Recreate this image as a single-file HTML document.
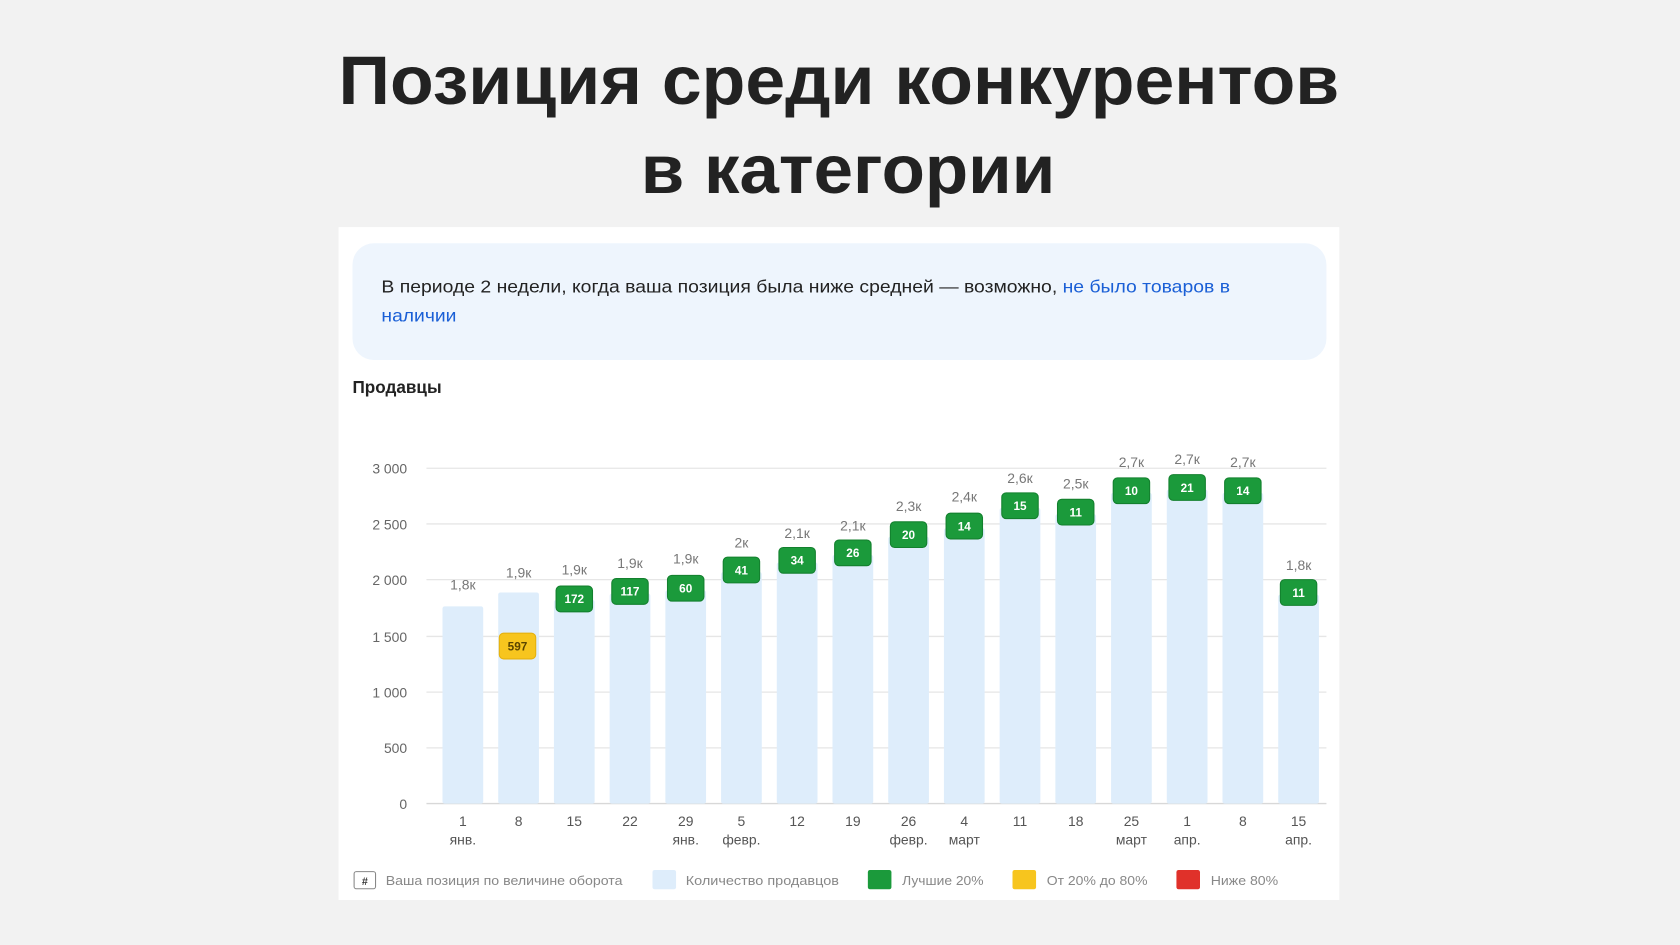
<!DOCTYPE html>
<html><head><meta charset="utf-8"><style>
html,body{margin:0;padding:0;background:#f2f2f2;width:1680px;height:945px;overflow:hidden}
svg{display:block}
text{font-family:"Liberation Sans","Noto Sans CJK SC",sans-serif}
</style></head><body>
<svg width="1680" height="945" viewBox="0 0 1568 882" xmlns="http://www.w3.org/2000/svg">
<rect width="1568" height="882" fill="#f2f2f2"/>
<text x="316" y="97" textLength="934" lengthAdjust="spacingAndGlyphs" font-size="64" font-weight="bold" fill="#222">Позиция среди конкурентов</text>
<text x="598" y="180" textLength="387" lengthAdjust="spacingAndGlyphs" font-size="64" font-weight="bold" fill="#222">в категории</text>
<rect x="316" y="212" width="934" height="628" fill="#fff"/>
<rect x="329" y="227" width="909" height="109" rx="20" fill="#eef5fd"/>
<text x="356" y="273" font-size="16" fill="#222" textLength="792" lengthAdjust="spacingAndGlyphs">В периоде 2 недели, когда ваша позиция была ниже средней — возможно, <tspan fill="#1a5fd6">не было товаров в</tspan></text>
<text x="356" y="300" font-size="16" fill="#1a5fd6" textLength="70" lengthAdjust="spacingAndGlyphs">наличии</text>
<text x="329" y="367" font-size="16" font-weight="bold" fill="#222">Продавцы</text>
<g stroke="#e6e6e6" stroke-width="1.2">
<line x1="398" x2="1238" y1="437" y2="437"/><line x1="398" x2="1238" y1="489" y2="489"/>
<line x1="398" x2="1238" y1="541" y2="541"/><line x1="398" x2="1238" y1="594" y2="594"/>
<line x1="398" x2="1238" y1="646" y2="646"/><line x1="398" x2="1238" y1="698" y2="698"/>
<line x1="398" x2="1238" y1="750" y2="750" stroke="#d8d8d8"/>
</g>
<g font-size="13" fill="#666" text-anchor="end">
<text x="380" y="442">3 000</text><text x="380" y="494">2 500</text><text x="380" y="546">2 000</text>
<text x="380" y="599">1 500</text><text x="380" y="651">1 000</text><text x="380" y="703">500</text><text x="380" y="755">0</text>
</g>
<g fill="#deedfb">
<rect x="413" y="566" width="38" height="184" rx="2"/>
<rect x="465" y="553" width="38" height="197" rx="2"/>
<rect x="517" y="560" width="38" height="190" rx="2"/>
<rect x="569" y="554" width="38" height="196" rx="2"/>
<rect x="621" y="551" width="38" height="199" rx="2"/>
<rect x="673" y="534" width="38" height="216" rx="2"/>
<rect x="725" y="525" width="38" height="225" rx="2"/>
<rect x="777" y="518" width="38" height="232" rx="2"/>
<rect x="829" y="501" width="38" height="249" rx="2"/>
<rect x="881" y="493" width="38" height="257" rx="2"/>
<rect x="933" y="474" width="38" height="276" rx="2"/>
<rect x="985" y="480" width="38" height="270" rx="2"/>
<rect x="1037" y="460" width="38" height="290" rx="2"/>
<rect x="1089" y="457" width="38" height="293" rx="2"/>
<rect x="1141" y="460" width="38" height="290" rx="2"/>
<rect x="1193" y="555" width="38" height="195" rx="2"/>
</g>
<g font-size="13" fill="#777" text-anchor="middle">
<text x="432" y="550">1,8к</text><text x="484" y="539">1,9к</text><text x="536" y="536">1,9к</text>
<text x="588" y="530">1,9к</text><text x="640" y="526">1,9к</text><text x="692" y="511">2к</text>
<text x="744" y="502">2,1к</text><text x="796" y="495">2,1к</text><text x="848" y="477">2,3к</text>
<text x="900" y="468">2,4к</text><text x="952" y="451">2,6к</text><text x="1004" y="456">2,5к</text>
<text x="1056" y="436">2,7к</text><text x="1108" y="433">2,7к</text><text x="1160" y="436">2,7к</text>
<text x="1212" y="532">1,8к</text>
</g>
<rect x="466" y="591" width="34" height="24" rx="4" fill="#f7c51e" stroke="#e5b10e"/>
<text x="483" y="607" font-size="11" font-weight="bold" fill="#5a4500" text-anchor="middle">597</text>
<g fill="#1b9a3b" stroke="#13802e">
<rect x="519" y="547" width="34" height="24" rx="4"/><rect x="571" y="540" width="34" height="24" rx="4"/>
<rect x="623" y="537" width="34" height="24" rx="4"/><rect x="675" y="520" width="34" height="24" rx="4"/>
<rect x="727" y="511" width="34" height="24" rx="4"/><rect x="779" y="504" width="34" height="24" rx="4"/>
<rect x="831" y="487" width="34" height="24" rx="4"/><rect x="883" y="479" width="34" height="24" rx="4"/>
<rect x="935" y="460" width="34" height="24" rx="4"/><rect x="987" y="466" width="34" height="24" rx="4"/>
<rect x="1039" y="446" width="34" height="24" rx="4"/><rect x="1091" y="443" width="34" height="24" rx="4"/>
<rect x="1143" y="446" width="34" height="24" rx="4"/><rect x="1195" y="541" width="34" height="24" rx="4"/>
</g>
<g font-size="11" font-weight="bold" fill="#fff" text-anchor="middle">
<text x="536" y="563">172</text><text x="588" y="556">117</text><text x="640" y="553">60</text>
<text x="692" y="536">41</text><text x="744" y="527">34</text><text x="796" y="520">26</text>
<text x="848" y="503">20</text><text x="900" y="495">14</text><text x="952" y="476">15</text>
<text x="1004" y="482">11</text><text x="1056" y="462">10</text><text x="1108" y="459">21</text>
<text x="1160" y="462">14</text><text x="1212" y="557">11</text>
</g>
<g font-size="13" fill="#555" text-anchor="middle">
<text x="432" y="771">1</text><text x="484" y="771">8</text><text x="536" y="771">15</text><text x="588" y="771">22</text>
<text x="640" y="771">29</text><text x="692" y="771">5</text><text x="744" y="771">12</text><text x="796" y="771">19</text>
<text x="848" y="771">26</text><text x="900" y="771">4</text><text x="952" y="771">11</text><text x="1004" y="771">18</text>
<text x="1056" y="771">25</text><text x="1108" y="771">1</text><text x="1160" y="771">8</text><text x="1212" y="771">15</text>
<text x="432" y="788">янв.</text><text x="640" y="788">янв.</text><text x="692" y="788">февр.</text>
<text x="848" y="788">февр.</text><text x="900" y="788">март</text><text x="1056" y="788">март</text>
<text x="1108" y="788">апр.</text><text x="1212" y="788">апр.</text>
</g>
<g font-size="12" fill="#888">
<rect x="330.5" y="813.5" width="20" height="16" rx="2" fill="#fff" stroke="#888"/>
<text x="340.5" y="826" text-anchor="middle" font-size="10" fill="#333" font-weight="bold">#</text>
<text x="360" y="826" textLength="221" lengthAdjust="spacingAndGlyphs">Ваша позиция по величине оборота</text>
<rect x="609" y="812" width="22" height="18" rx="2" fill="#deedfb"/>
<text x="640" y="826" textLength="143" lengthAdjust="spacingAndGlyphs">Количество продавцов</text>
<rect x="810" y="812" width="22" height="18" rx="2" fill="#1b9a3b"/>
<text x="842" y="826" textLength="76" lengthAdjust="spacingAndGlyphs">Лучшие 20%</text>
<rect x="945" y="812" width="22" height="18" rx="2" fill="#f7c51e"/>
<text x="977" y="826" textLength="94" lengthAdjust="spacingAndGlyphs">От 20% до 80%</text>
<rect x="1098" y="812" width="22" height="18" rx="2" fill="#e0312a"/>
<text x="1130" y="826" textLength="63" lengthAdjust="spacingAndGlyphs">Ниже 80%</text>
</g>
</svg>
</body></html>
